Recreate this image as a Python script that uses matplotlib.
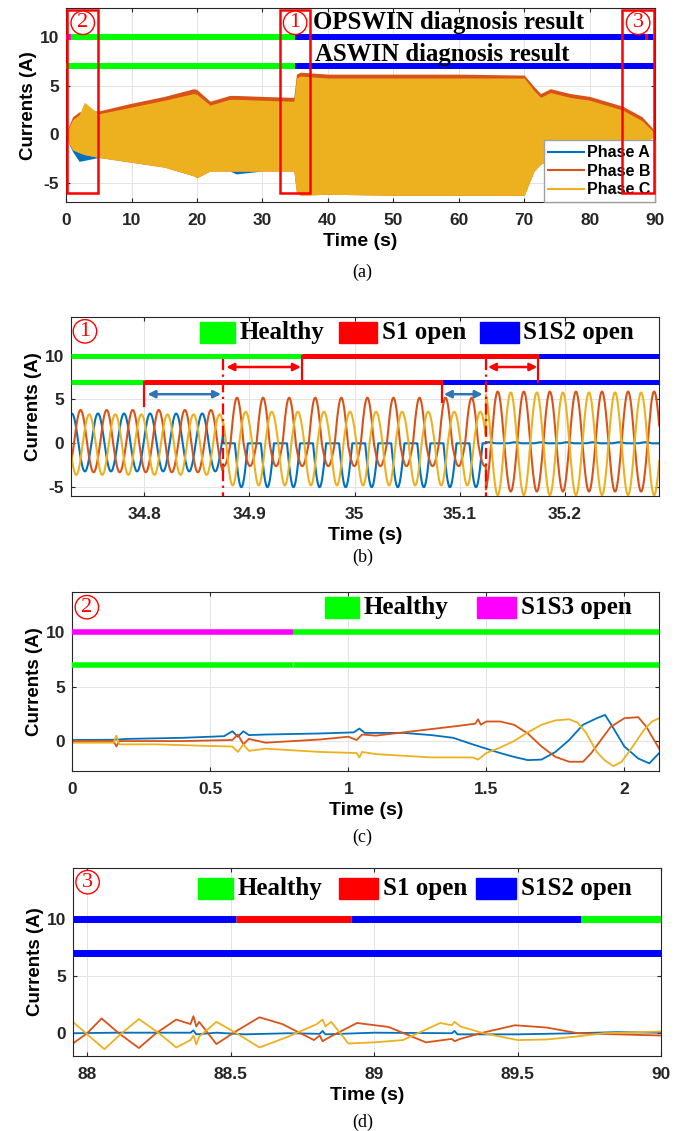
import numpy as np
import matplotlib
matplotlib.use('Agg')  # no GUI
import matplotlib.pyplot as plt
from matplotlib.patches import Rectangle
from matplotlib.lines import Line2D

plt.rcParams['font.family'] = ['Liberation Sans', 'DejaVu Sans']
plt.rcParams['font.weight'] = 'bold'
plt.rcParams['axes.unicode_minus'] = False

# -----------------------------
# Colours
# -----------------------------
C_A, C_B, C_C = '#0072BD', '#D95319', '#EDB120'
GREEN, RED, BLUE, MAG = '#00FF00', '#FF0000', '#0000FF', '#FF00FF'
ARROW_BLUE = '#2E75B6'

# -----------------------------
# Data: panel (a) envelopes over 0-90 s
# -----------------------------
a_t = [0, 0.5, 1, 2, 2.8, 5, 10, 15, 19.5, 20, 22, 25, 26, 30, 34.8, 35.2, 35.8,
       40, 50, 60, 70, 71.5, 72.5, 74, 77, 80, 85, 88, 89.5, 90]
a_b_top = [0, 1.0, 1.8, 2.3, 2.4, 2.4, 3.2, 3.9, 4.7, 4.6, 3.4, 4.0, 4.0, 3.9, 3.8,
           6.2, 6.4, 6.2, 6.2, 6.2, 6.1, 4.9, 4.2, 4.7, 4.2, 3.9, 2.9, 1.8, 0.7, 0]
a_c_top = [0, 0.8, 1.5, 2.0, 3.3, 2.1, 2.8, 3.5, 4.2, 4.1, 3.0, 3.6, 3.6, 3.5, 3.4,
           5.8, 6.0, 5.8, 5.8, 5.8, 5.8, 4.5, 3.8, 4.3, 3.8, 3.5, 2.5, 1.4, 0.4, 0]
a_c_bot = [0, -1.0, -1.6, -1.9, -2.1, -2.4, -2.9, -3.4, -4.3, -4.5, -3.8, -3.8, -3.8,
           -3.8, -3.8, -6.0, -6.3, -6.2, -6.3, -6.3, -6.3, -3.8, -3.1, -2.6, -2.3,
           -2.0, -1.4, -0.9, -0.4, 0]
a_a_bot = [0, -1.1, -1.8, -2.8, -2.7, -2.4, -2.9, -3.4, -4.3, -4.5, -3.8, -3.8, -4.1,
           -3.8, -3.8, -6.0, -6.3, -6.2, -6.3, -6.3, -6.3, -3.8, -3.1, -2.6, -2.3,
           -2.0, -1.4, -0.9, -0.4, 0]
# diagnosis bars: (start, end, colour)
a_opswin = [(0, 0.7, MAG), (0.7, 35, GREEN), (35, 88.4, BLUE), (88.4, 88.9, RED),
            (88.9, 89.7, BLUE), (89.7, 90, GREEN)]
a_aswin = [(0, 35, GREEN), (35, 90, BLUE)]
a_boxes = [(0.2, 4.9, '2'), (32.7, 37.3, '1'), (85.0, 89.8, '3')]

# -----------------------------
# Data: panel (b) segments around the fault at 35 s
# -----------------------------
b_freq = 40.3
b_t0 = 34.731
b_edges = [34.73, 34.875, 35.125, 35.29]
b_peak_a = [3.4, 0.0, 0.12]
b_trough_a = [-3.2, -5.0, 0.0]
b_lag_a = [0, 0, 0]
b_peak_b = [3.8, 5.2, 5.9]
b_trough_b = [-3.3, -2.6, -5.5]
b_lag_b = [120, 120, 120]
b_peak_c = [3.3, 3.6, 5.8]
b_trough_c = [-3.6, -4.8, -5.9]
b_lag_c = [240, 240, 300]
b_opswin = [(34.73, 34.95, GREEN), (34.95, 35.175, RED), (35.175, 35.29, BLUE)]
b_aswin = [(34.73, 34.80, GREEN), (34.80, 35.083, RED), (35.083, 35.29, BLUE)]

# -----------------------------
# Data: panel (c) start-up 0-2.13 s
# -----------------------------
c_t_a = [0, 0.15, 0.2, 0.4, 0.55, 0.58, 0.6, 0.62, 0.64, 0.7, 0.9, 1.02, 1.04, 1.06,
         1.2, 1.3, 1.38, 1.45, 1.5, 1.55, 1.6, 1.65, 1.7, 1.75, 1.8, 1.85, 1.9, 1.93,
         1.95, 2.0, 2.05, 2.09, 2.126]
c_a = [0.1, 0.12, 0.2, 0.3, 0.45, 0.9, 0.4, 0.9, 0.55, 0.6, 0.7, 0.8, 1.15, 0.75,
       0.75, 0.55, 0.3, -0.3, -0.7, -1.1, -1.45, -1.75, -1.7, -1.0, 0.1, 1.5, 2.1, 2.4,
       1.6, -0.5, -1.6, -2.05, -1.1]
c_t_b = [0, 0.15, 0.16, 0.17, 0.4, 0.58, 0.6, 0.62, 0.64, 0.7, 0.9, 1.0, 1.03, 1.05,
         1.1, 1.2, 1.3, 1.4, 1.46, 1.47, 1.48, 1.5, 1.55, 1.6, 1.65, 1.7, 1.75, 1.8,
         1.85, 1.88, 1.95, 2.0, 2.05, 2.08, 2.1, 2.126]
c_b = [0.0, 0.0, -0.5, 0.0, 0.0, 0.1, 0.6, -0.3, 0.2, -0.15, 0.15, 0.4, 0.1, 0.6,
       0.5, 0.8, 1.1, 1.4, 1.6, 2.0, 1.5, 1.8, 1.8, 1.5, 0.7, -0.5, -1.45, -1.9,
       -1.9, -1.1, 1.3, 2.1, 2.2, 1.3, 0.4, -0.7]
c_t_c = [0, 0.15, 0.16, 0.17, 0.3, 0.5, 0.58, 0.6, 0.62, 0.64, 0.7, 0.9, 1.03, 1.04,
         1.05, 1.1, 1.3, 1.45, 1.47, 1.5, 1.55, 1.6, 1.65, 1.7, 1.75, 1.8, 1.83, 1.86,
         1.9, 1.93, 1.96, 1.99, 2.03, 2.07, 2.1, 2.126]
c_c = [-0.15, -0.15, 0.5, -0.3, -0.3, -0.45, -0.5, -1.0, -0.3, -0.9, -0.7, -1.0,
       -1.1, -1.5, -1.0, -1.2, -1.5, -1.5, -1.7, -1.1, -0.6, 0.0, 0.8, 1.5, 1.9, 2.0,
       1.7, 0.8, -1.0, -1.8, -2.3, -1.9, -0.5, 1.0, 1.8, 2.1]
c_opswin = [(0, 0.8, MAG), (0.8, 2.126, GREEN)]
c_aswin = [(0, 0.8, GREEN), (0.8, 2.126, GREEN)]

# -----------------------------
# Data: panel (d) end of run 88-90 s
# -----------------------------
d_t_a = [87.95, 88.1, 88.36, 88.37, 88.38, 88.45, 88.55, 88.7, 88.81, 88.82, 88.83,
         89.0, 89.27, 89.28, 89.29, 89.5, 89.7, 89.85, 90]
d_a = [0.0, 0.05, 0.05, 0.25, -0.1, 0.05, -0.1, 0.0, -0.05, 0.2, -0.1, 0.05, 0.0,
       0.2, -0.1, -0.1, 0.0, 0.1, 0.05]
d_t_b = [87.95, 88.0, 88.05, 88.11, 88.18, 88.24, 88.31, 88.36, 88.37, 88.38, 88.39,
         88.45, 88.52, 88.6, 88.68, 88.79, 88.81, 88.82, 88.84, 88.94, 89.05, 89.18,
         89.27, 89.28, 89.3, 89.37, 89.49, 89.6, 89.71, 89.85, 90]
d_b = [-0.9, 0.0, 1.3, 0.0, -1.3, 0.0, 1.2, 0.8, 1.5, 0.6, 1.0, -0.95, 0.2, 1.4,
       0.8, -0.6, -0.2, -0.7, -0.4, 0.9, 0.55, -0.8, -0.5, -0.7, -0.5, 0.0, 0.7,
       0.5, 0.0, -0.1, -0.2]
d_t_c = [87.95, 88.0, 88.06, 88.12, 88.18, 88.25, 88.31, 88.36, 88.37, 88.38, 88.39,
         88.45, 88.52, 88.6, 88.7, 88.8, 88.82, 88.83, 88.85, 88.91, 89.0, 89.1,
         89.23, 89.27, 89.28, 89.3, 89.38, 89.5, 89.6, 89.7, 89.8, 90]
d_c = [1.0, -0.1, -1.4, 0.0, 1.25, 0.0, -1.25, -0.6, -0.2, -1.0, -0.3, 1.0, 0.0,
       -1.25, -0.3, 0.8, 1.2, 0.6, 1.0, -0.9, -0.8, -0.6, 0.9, 0.7, 1.0, 0.6, 0.0,
       -0.6, -0.55, -0.3, 0.0, 0.15]
d_opswin = [(87.95, 88.52, BLUE), (88.52, 88.92, RED), (88.92, 89.72, BLUE),
            (89.72, 90, GREEN)]
d_aswin = [(87.95, 90, BLUE)]

# -----------------------------
# Helpers
# -----------------------------
def style_axes(ax, xlim, ylim, yticks):
    ax.set_xlim(*xlim)
    ax.set_ylim(*ylim)
    ax.set_yticks(yticks)
    ax.grid(True, color='#e3e3e3', lw=0.7)
    ax.set_axisbelow(True)
    ax.tick_params(direction='in', length=3, top=True, right=True,
                   labelsize=12.5, colors='#262626')
    ax.tick_params(axis='x', pad=8)
    ax.tick_params(axis='y', pad=5)
    for s in ax.spines.values():
        s.set_color('#262626')
        s.set_linewidth(0.8)
    ax.set_ylabel('Currents (A)', fontsize=13.5, fontweight='bold', labelpad=2)
    ax.set_xlabel('Time (s)', fontsize=14, fontweight='bold', labelpad=3.5)


def draw_bars(ax, segs, y, lw):
    for x0, x1, col in segs:
        ax.plot([x0, x1], [y, y], color=col, lw=lw, solid_capstyle='butt', zorder=4)


def circled(ax, x, y, s, size=16, transform=None):
    kw = {} if transform is None else {'transform': transform}
    ax.text(x, y, s, color='red', fontsize=size, family='Liberation Serif',
            fontweight='normal', ha='center', va='center', zorder=6,
            bbox=dict(boxstyle='circle,pad=0.1', ec='red', fc='white', lw=1.0), **kw)


def status_keys(ax, items, y0, h):
    for x0, w, col, label in items:
        ax.add_patch(Rectangle((x0, y0), w, h, transform=ax.transAxes,
                               color=col, zorder=5, clip_on=False))
        ax.text(x0 + w + 0.008, y0 + h / 2, label, transform=ax.transAxes,
                family='Liberation Serif', fontweight='bold', fontsize=18,
                ha='left', va='center', zorder=5)


def wave(t, peaks, troughs, lags):
    t = np.asarray(t)
    out = np.zeros_like(t)
    for i in range(len(b_edges) - 1):
        m = (t >= b_edges[i]) & (t <= b_edges[i + 1])
        s = np.cos(2 * np.pi * b_freq * (t[m] - b_t0) - np.deg2rad(lags[i]))
        out[m] = np.where(s > 0, peaks[i] * s, -troughs[i] * s)
    return out


def panel_label(y, s):
    fig.text(0.532, y, s, family='Liberation Serif', fontweight='normal',
             fontsize=13, ha='center', va='center')


fig = plt.figure(figsize=(6.81, 11.31), dpi=100)

# -----------------------------
# Panel (a)
# -----------------------------
ax = fig.add_axes([0.097, 0.8214, 0.865, 0.1713])
ax.fill_between(a_t, a_a_bot, a_c_bot, color=C_A, lw=0, zorder=2)
ax.fill_between(a_t, a_c_bot, a_b_top, color=C_B, lw=0, zorder=2)
ax.fill_between(a_t, a_c_bot, a_c_top, color=C_C, lw=0, zorder=3)
draw_bars(ax, a_opswin, 10, 4.3)
draw_bars(ax, a_aswin, 7, 4.3)
ax.text(37.8, 11.5, 'OPSWIN diagnosis result', family='Liberation Serif',
        fontweight='bold', fontsize=17.8, va='center', zorder=5)
ax.text(38.1, 8.25, 'ASWIN diagnosis result', family='Liberation Serif',
        fontweight='bold', fontsize=17.8, va='center', zorder=5)
for x0, x1, lab in a_boxes:
    ax.add_patch(Rectangle((x0, -6.1), x1 - x0, 18.95, fill=False, ec='red',
                           lw=1.8, zorder=6, clip_on=False))
    circled(ax, (x0 + x1) / 2, 11.5, lab)
style_axes(ax, (0, 90), (-7, 13), [-5, 0, 5, 10])
ax.set_xticks(range(0, 91, 10))
handles = [Line2D([], [], color=c, lw=1.5) for c in (C_A, C_B, C_C)]
leg = ax.legend(handles, ['Phase A', 'Phase B', 'Phase C'], loc='lower right',
                borderaxespad=0, fancybox=False, framealpha=1, edgecolor='#a0a0a0',
                prop={'weight': 'bold', 'size': 11.5}, handlelength=2.2,
                handletextpad=0.2, labelspacing=0.22, borderpad=0.3)
leg.set_zorder(5)
panel_label(1 - 272 / 1131, '(a)')

# -----------------------------
# Panel (b)
# -----------------------------
ax = fig.add_axes([0.104, 0.5615, 0.864, 0.1582])
tb = np.linspace(b_edges[0], b_edges[-1], 8000)
ax.plot(tb, wave(tb, b_peak_a, b_trough_a, b_lag_a), color=C_A, lw=1.5, zorder=2)
ax.plot(tb, wave(tb, b_peak_b, b_trough_b, b_lag_b), color=C_B, lw=1.5, zorder=2)
ax.plot(tb, wave(tb, b_peak_c, b_trough_c, b_lag_c), color=C_C, lw=1.5, zorder=2)
draw_bars(ax, b_opswin, 10, 3.6)
draw_bars(ax, b_aswin, 7, 3.6)
for x, y0, y1 in [(34.95, 10, 7), (35.175, 10, 7), (34.80, 7, 4.3), (35.083, 7, 4.7)]:
    ax.plot([x, x], [y0, y1], color=RED, lw=1.6, zorder=4)
for x in (34.875, 35.125):
    ax.plot([x, x], [9.6, -6.0], color=RED, lw=1.6, ls=(0, (5, 2, 1, 2)), zorder=4)
for x0, x1, y, col in [(34.878, 34.949, 8.7, RED), (35.127, 35.174, 8.7, RED),
                       (34.803, 34.873, 5.6, ARROW_BLUE), (35.085, 35.122, 5.6, ARROW_BLUE)]:
    ax.annotate('', xy=(x1, y), xytext=(x0, y), zorder=5,
                arrowprops=dict(arrowstyle='<|-|>', color=col, lw=1.8,
                                mutation_scale=11, shrinkA=0, shrinkB=0))
style_axes(ax, (34.73, 35.29), (-6, 14.4), [-5, 0, 5, 10])
ax.set_xticks([34.8, 34.9, 35.0, 35.1, 35.2])
ax.set_xticklabels(['34.8', '34.9', '35', '35.1', '35.2'])
circled(ax, 0.024, 0.92, '1', transform=ax.transAxes)
status_keys(ax, [(0.220, 0.059, GREEN, 'Healthy'), (0.455, 0.066, RED, 'S1 open'),
                 (0.695, 0.066, BLUE, 'S1S2 open')], 0.857, 0.115)
panel_label(1 - 557 / 1131, '(b)')

# -----------------------------
# Panel (c)
# -----------------------------
ax = fig.add_axes([0.106, 0.3183, 0.862, 0.1583])
ax.plot(c_t_a, c_a, color=C_A, lw=1.3, zorder=2)
ax.plot(c_t_b, c_b, color=C_B, lw=1.3, zorder=2)
ax.plot(c_t_c, c_c, color=C_C, lw=1.3, zorder=2)
draw_bars(ax, c_opswin, 10, 4.0)
draw_bars(ax, c_aswin, 7, 4.0)
ax.plot([0.8, 0.8], [6.7, 7.3], color='white', lw=0.8, zorder=4)
style_axes(ax, (0, 2.126), (-2.75, 13.7), [0, 5, 10])
ax.set_xticks([0, 0.5, 1, 1.5, 2])
ax.set_xticklabels(['0', '0.5', '1', '1.5', '2'])
circled(ax, 0.025, 0.915, '2', transform=ax.transAxes)
status_keys(ax, [(0.430, 0.059, GREEN, 'Healthy'), (0.689, 0.067, MAG, 'S1S3 open')],
            0.856, 0.115)
panel_label(1 - 837 / 1131, '(c)')

# -----------------------------
# Panel (d)
# -----------------------------
ax = fig.add_axes([0.107, 0.0663, 0.864, 0.1662])
ax.plot(d_t_a, d_a, color=C_A, lw=1.3, zorder=2)
ax.plot(d_t_b, d_b, color=C_B, lw=1.3, zorder=2)
ax.plot(d_t_c, d_c, color=C_C, lw=1.3, zorder=2)
draw_bars(ax, d_opswin, 10, 5.0)
draw_bars(ax, d_aswin, 7, 5.0)
style_axes(ax, (87.95, 90), (-2.0, 14.5), [0, 5, 10])
ax.set_xticks([88, 88.5, 89, 89.5, 90])
ax.set_xticklabels(['88', '88.5', '89', '89.5', '90'])
circled(ax, 0.025, 0.925, '3', transform=ax.transAxes)
status_keys(ax, [(0.213, 0.059, GREEN, 'Healthy'), (0.452, 0.067, RED, 'S1 open'),
                 (0.685, 0.068, BLUE, 'S1S2 open')], 0.833, 0.112)
panel_label(1 - 1122 / 1131, '(d)')

fig.savefig('out.png', dpi=100)
print('Saved plot to out.png')
